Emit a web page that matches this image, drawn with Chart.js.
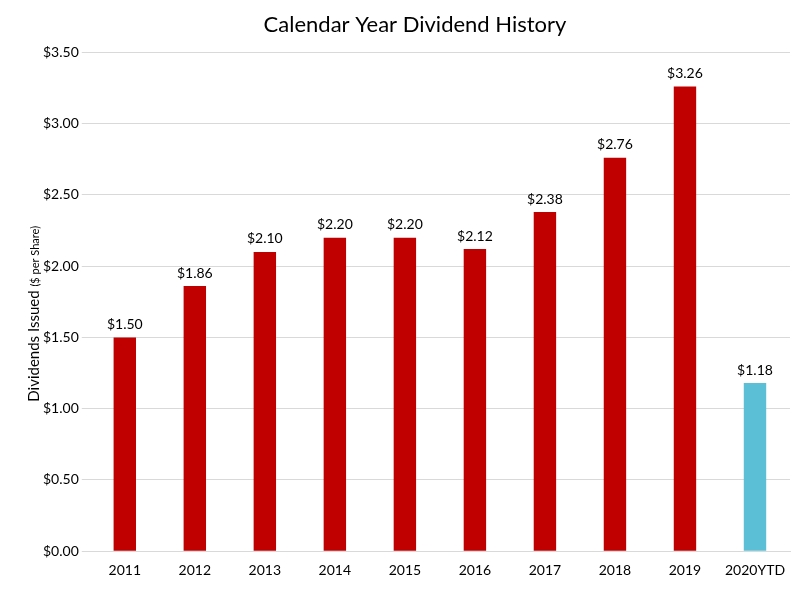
<!DOCTYPE html>
<html><head><meta charset="utf-8">
<script src="https://cdn.jsdelivr.net/npm/chart.js@4"></script>
<style>html,body{margin:0;padding:0;background:#fff}#w{width:808px;height:590px}</style>
</head><body><div id="w"><canvas id="c" width="808" height="590"></canvas></div>
<script>
const categories = ["2011","2012","2013","2014","2015","2016","2017","2018","2019","2020YTD"];
const dividends = [1.50,1.86,2.10,2.20,2.20,2.12,2.38,2.76,3.26,1.18];
const barColors = ["#C00000","#C00000","#C00000","#C00000","#C00000","#C00000","#C00000","#C00000","#C00000","#5BBFD5"];
const FONT = "Lato, 'Open Sans', sans-serif";
const labels = {
  id:'labels',
  afterDatasetsDraw(chart){
    const ctx=chart.ctx; const meta=chart.getDatasetMeta(0);
    ctx.save(); ctx.font="14px "+FONT; ctx.fillStyle="#000"; ctx.textAlign="center"; ctx.textBaseline="bottom";
    meta.data.forEach((b,i)=>ctx.fillText("$"+dividends[i].toFixed(2), b.x, b.y-6));
    // y title
    const a=chart.chartArea; ctx.translate(34,(a.top+a.bottom)/2+12); ctx.rotate(-Math.PI/2);
    const t1="Dividends Issued ", t2="($ per Share)";
    ctx.font="15px "+FONT; const w1=ctx.measureText(t1).width;
    ctx.font="11px "+FONT; const w2=ctx.measureText(t2).width;
    let x=-(w1+w2)/2; ctx.textAlign="left"; ctx.textBaseline="middle";
    ctx.font="15px "+FONT; ctx.fillText(t1,x,0);
    ctx.font="11px "+FONT; ctx.fillText(t2,x+w1,1);
    ctx.restore();
  }
};
new Chart(document.getElementById('c'),{
  type:'bar',
  data:{labels:categories,datasets:[{data:dividends,backgroundColor:barColors,categoryPercentage:1,barPercentage:0.32}]},
  options:{
    responsive:false,animation:false,
    layout:{padding:{left:40,right:18,top:0,bottom:8}},
    plugins:{legend:{display:false},tooltip:{enabled:false},
      title:{display:true,text:"Calendar Year Dividend History",color:"#000",font:{family:FONT,size:22,weight:'normal'},padding:{top:12,bottom:14}}},
    scales:{
      x:{grid:{display:false},border:{color:"#d9d9d9"},ticks:{color:"#000",font:{family:FONT,size:14}}},
      y:{min:0,max:3.5,ticks:{stepSize:0.5,color:"#000",font:{family:FONT,size:14},callback:v=>"$"+v.toFixed(2)},
         grid:{color:"#d9d9d9"},border:{display:false}}
    }
  },
  plugins:[labels]
});
</script></body></html>
